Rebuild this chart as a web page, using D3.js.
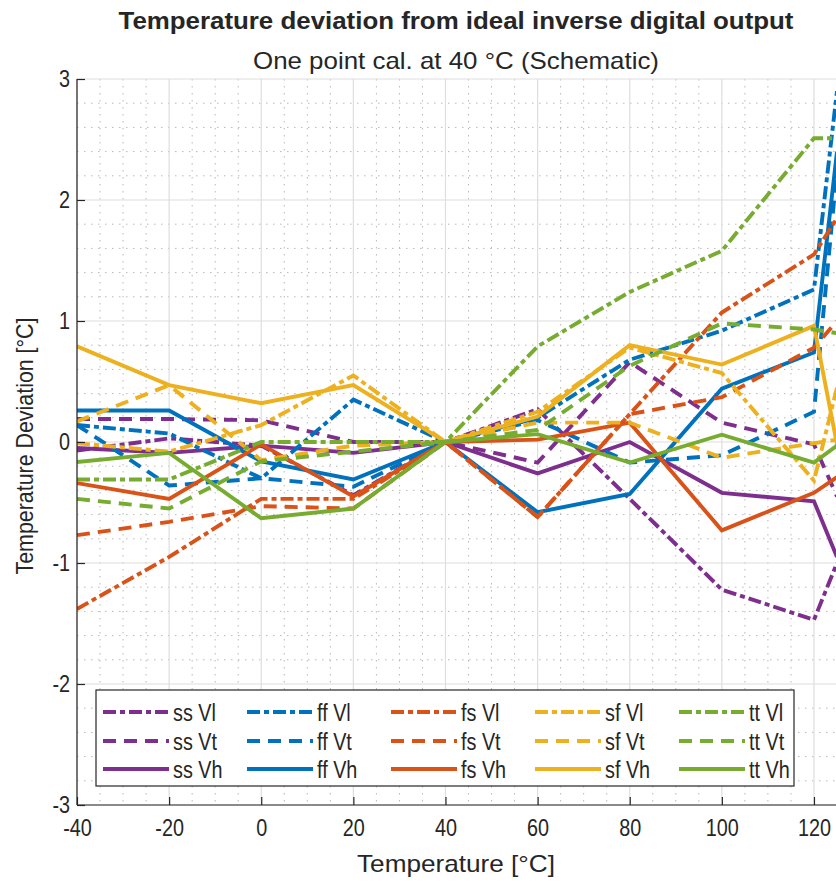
<!DOCTYPE html>
<html>
<head>
<meta charset="utf-8">
<script src="https://cdn.jsdelivr.net/npm/d3@7"></script>
<style>
  html, body { margin: 0; padding: 0; background: #fff; }
  svg { display: block; }
  text { font-family: "Liberation Sans", Arial, Helvetica, sans-serif; fill: #262626; }
</style>
</head>
<body>
<svg id="chart" width="836" height="884"></svg>
<script>
// Temperature sweep points (°C)
const temps = [-40, -20, 0, 20, 40, 60, 80, 100, 120, 125];

// Deviation [°C] per corner / supply condition
const ss_Vl = [-0.07, 0.03, -0.03, -0.44, 0, 0.27, -0.47, -1.22, -1.47, -1.00];
const ss_Vt = [0.19, 0.19, 0.18, 0.00, 0, -0.17, 0.66, 0.16, -0.02, -0.45];
const ss_Vh = [-0.05, -0.09, -0.03, -0.09, 0, -0.26, 0.00, -0.42, -0.49, -0.95];
const ff_Vl = [0.14, 0.07, -0.30, 0.35, 0, 0.20, 0.68, 0.92, 1.26, 2.90];
const ff_Vt = [0.14, -0.36, -0.30, -0.37, 0, 0.18, -0.17, -0.11, 0.25, 2.25];
const ff_Vh = [0.26, 0.26, -0.16, -0.31, 0, -0.58, -0.43, 0.44, 0.74, 2.40];
const fs_Vl = [-1.38, -0.95, -0.47, -0.47, 0, -0.62, 0.23, 1.07, 1.55, 1.85];
const fs_Vt = [-0.77, -0.66, -0.53, -0.55, 0, -0.62, 0.23, 0.37, 0.78, 1.00];
const fs_Vh = [-0.34, -0.47, -0.02, -0.45, 0, 0.02, 0.16, -0.73, -0.42, -0.29];
const sf_Vl = [-0.01, -0.08, 0.14, 0.55, 0, 0.25, 0.78, 0.57, -0.32, 0.45];
const sf_Vt = [0.17, 0.47, -0.15, -0.03, 0, 0.16, 0.16, -0.13, -0.01, 0.02];
const sf_Vh = [0.79, 0.47, 0.32, 0.47, 0, 0.21, 0.80, 0.64, 0.96, -0.02];
const tt_Vl = [-0.31, -0.31, 0.00, 0.00, 0, 0.79, 1.24, 1.58, 2.51, 2.51];
const tt_Vt = [-0.47, -0.55, -0.16, -0.08, 0, 0.10, 0.63, 0.98, 0.93, 0.90];
const tt_Vh = [-0.165, -0.09, -0.63, -0.55, 0, 0.065, -0.17, 0.06, -0.17, -0.03];

const corners = ["ss", "ff", "fs", "sf", "tt"];
const supplies = ["Vl", "Vt", "Vh"];
const cornerColors = ["#7E2F8E", "#0072BD", "#D95319", "#EDB120", "#77AC30"];
const xTicks = [-40, -20, 0, 20, 40, 60, 80, 100, 120];
const yTicks = [-3, -2, -1, 0, 1, 2, 3];

const titleText = "Temperature deviation from ideal inverse digital output";
const subtitleText = "One point cal. at 40 °C (Schematic)";
const xLabelText = "Temperature [°C]";
const yLabelText = "Temperature Deviation [°C]";

const seriesValues = {
  ss: { Vl: ss_Vl, Vt: ss_Vt, Vh: ss_Vh },
  ff: { Vl: ff_Vl, Vt: ff_Vt, Vh: ff_Vh },
  fs: { Vl: fs_Vl, Vt: fs_Vt, Vh: fs_Vh },
  sf: { Vl: sf_Vl, Vt: sf_Vt, Vh: sf_Vh },
  tt: { Vl: tt_Vl, Vt: tt_Vt, Vh: tt_Vh }
};

// line style per supply condition
const dashFor = { Vl: "13,4,5,4", Vt: "13,8", Vh: null };

const series = [];
corners.forEach((c, ci) => {
  supplies.forEach(s => {
    series.push({ name: c + " " + s, color: cornerColors[ci], dash: dashFor[s],
                  values: seriesValues[c][s] });
  });
});

const svg = d3.select("#chart");
const plotL = 77, plotR = 837, plotT = 79, plotB = 805;

const x = d3.scaleLinear().domain([-40, 125]).range([plotL, plotR]);
const y = d3.scaleLinear().domain([-3, 3]).range([plotB, plotT]);

// squeeze a text element horizontally to a fraction of its natural width
function narrow(sel, k) {
  sel.each(function () {
    const len = this.getComputedTextLength();
    d3.select(this).attr("textLength", len * k).attr("lengthAdjust", "spacingAndGlyphs");
  });
}

const clipId = "plotclip";
svg.append("defs").append("clipPath").attr("id", clipId)
  .append("rect").attr("x", plotL).attr("y", plotT).attr("width", plotR - plotL).attr("height", plotB - plotT);

// minor grid (dotted)
const gGrid = svg.append("g");
const xMinor = d3.range(-35, 126, 5).filter(v => v % 20 !== 0);
const yMinor = d3.range(-2.8, 3, 0.2).map(v => +v.toFixed(1)).filter(v => Math.abs(v - Math.round(v)) > 1e-6);
gGrid.selectAll(".xminor").data(xMinor).join("line")
  .attr("x1", d => x(d)).attr("x2", d => x(d)).attr("y1", plotT).attr("y2", plotB)
  .attr("stroke", "#b8b8b8").attr("stroke-width", 1).attr("stroke-dasharray", "1.5,5.5");
gGrid.selectAll(".yminor").data(yMinor).join("line")
  .attr("x1", plotL).attr("x2", plotR).attr("y1", d => y(d)).attr("y2", d => y(d))
  .attr("stroke", "#b8b8b8").attr("stroke-width", 1).attr("stroke-dasharray", "1.5,5.5");
// major grid
gGrid.selectAll(".xmajor").data(xTicks).join("line")
  .attr("x1", d => x(d)).attr("x2", d => x(d)).attr("y1", plotT).attr("y2", plotB)
  .attr("stroke", "#dedede").attr("stroke-width", 1.2);
gGrid.selectAll(".ymajor").data(yTicks).join("line")
  .attr("x1", plotL).attr("x2", plotR).attr("y1", d => y(d)).attr("y2", d => y(d))
  .attr("stroke", "#dedede").attr("stroke-width", 1.2);

// data lines
const line = d3.line().x((d, i) => x(temps[i])).y(d => y(d));
const gLines = svg.append("g").attr("clip-path", `url(#${clipId})`);
series.forEach(s => {
  gLines.append("path")
    .attr("d", line(s.values))
    .attr("fill", "none")
    .attr("stroke", s.color)
    .attr("stroke-width", 3.9)
    .attr("stroke-linejoin", "miter")
    .attr("stroke-dasharray", s.dash);
});

// axes (ticks drawn inward, MATLAB style)
const fmt = d => String(d);
const xAxis = d3.axisBottom(x).tickValues(xTicks).tickSize(-8).tickPadding(15).tickFormat(fmt);
const yAxis = d3.axisLeft(y).tickValues(yTicks).tickSize(-8).tickPadding(7).tickFormat(fmt);
const gx = svg.append("g").attr("transform", `translate(0,${plotB})`).call(xAxis);
const gy = svg.append("g").attr("transform", `translate(${plotL},0)`).call(yAxis);
[gx, gy].forEach(g => {
  g.select(".domain").attr("stroke", "#262626").attr("stroke-width", 1.2);
  g.selectAll(".tick line").attr("stroke", "#262626").attr("stroke-width", 1.2);
  g.selectAll(".tick text").attr("font-size", 23).attr("fill", "#262626")
    .style("font-family", '"Liberation Sans", Arial, sans-serif');
  narrow(g.selectAll(".tick text"), 0.86);
});
gx.select(".domain").attr("d", `M${plotL},0H${plotR}`);
gy.select(".domain").attr("d", `M0,${plotB}V${plotT}`);
gx.selectAll(".tick text").attr("dy", "0.71em");

// titles
svg.append("text").attr("x", 456).attr("y", 29).attr("text-anchor", "middle")
  .attr("font-size", 24).attr("font-weight", "bold")
  .attr("textLength", 675).attr("lengthAdjust", "spacingAndGlyphs").text(titleText);
svg.append("text").attr("x", 456).attr("y", 69).attr("text-anchor", "middle")
  .attr("font-size", 24)
  .attr("textLength", 406).attr("lengthAdjust", "spacingAndGlyphs").text(subtitleText);
svg.append("text").attr("x", 456).attr("y", 872).attr("text-anchor", "middle")
  .attr("font-size", 24)
  .attr("textLength", 198).attr("lengthAdjust", "spacingAndGlyphs").text(xLabelText);
svg.append("text").attr("transform", "translate(33,446) rotate(-90)").attr("text-anchor", "middle")
  .attr("font-size", 24)
  .attr("textLength", 257).attr("lengthAdjust", "spacingAndGlyphs").text(yLabelText);

// legend (5 columns x 3 rows)
const lg = svg.append("g");
const lgX = 96, lgY = 690, lgW = 698, lgH = 96;
lg.append("rect").attr("x", lgX).attr("y", lgY).attr("width", lgW).attr("height", lgH)
  .attr("fill", "#fff").attr("stroke", "#262626").attr("stroke-width", 1.2);
const colX = [103, 247, 391, 535, 679];
const rowY = [712, 741, 769];
series.forEach((s, i) => {
  const ci = Math.floor(i / 3), ri = i % 3;
  lg.append("line").attr("x1", colX[ci]).attr("x2", colX[ci] + 66)
    .attr("y1", rowY[ri]).attr("y2", rowY[ri])
    .attr("stroke", s.color).attr("stroke-width", 3.9).attr("stroke-dasharray", s.dash);
  const t = lg.append("text").attr("x", colX[ci] + 70).attr("y", rowY[ri] + 9)
    .attr("font-size", 23).text(s.name);
  narrow(t, 0.86);
});
</script>
</body>
</html>
